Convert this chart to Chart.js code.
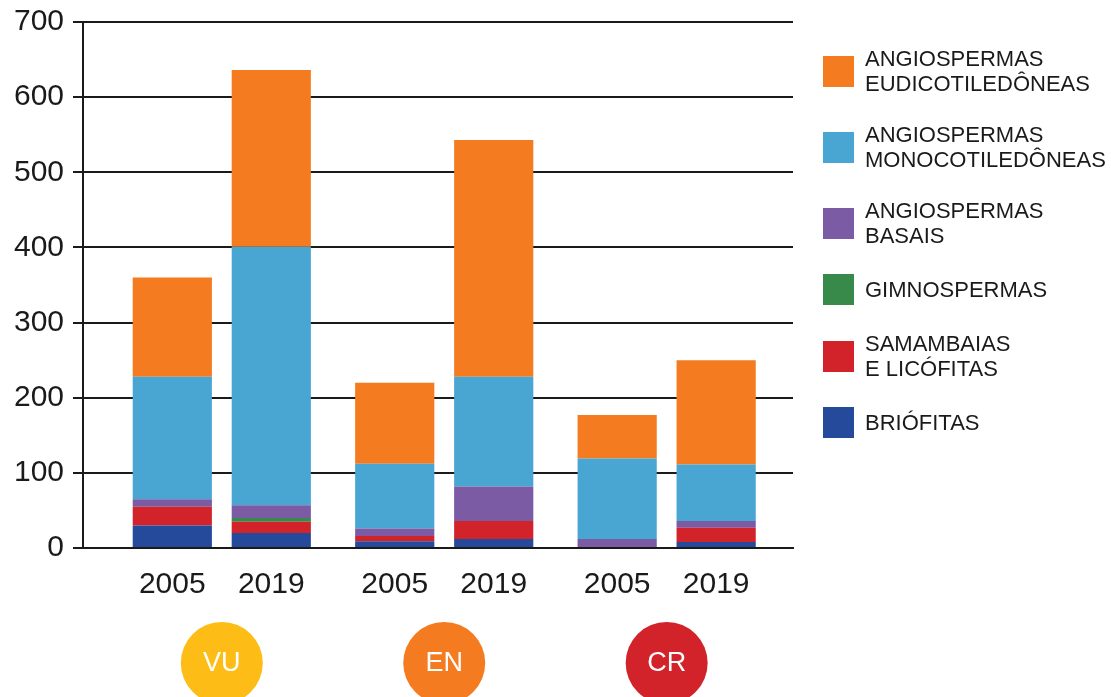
<!DOCTYPE html>
<html lang="pt-BR">
<head>
<meta charset="utf-8">
<title>Espécies ameaçadas 2005 x 2019</title>
<script src="https://cdn.jsdelivr.net/npm/chart.js@4/dist/chart.umd.min.js"></script>
<style>
    html, body { margin: 0; padding: 0; background: #fff; }
    body { width: 1111px; height: 697px; position: relative; overflow: hidden;
           font-family: "Liberation Sans", Arial, sans-serif; color: #1a1a1a; }
    #grafico { position: absolute; left: 0; top: 0; }
    #legenda { position: absolute; left: 823px; top: 46px; display: flex; flex-direction: column; gap: 26px; }
    .item { display: flex; align-items: center; min-height: 31px; }
    .caixa { width: 31px; height: 31px; flex: none; margin-right: 11px; }
    .texto { font-size: 22px; line-height: 25px; }
</style>
</head>
<body>
<canvas id="grafico" width="1111" height="697"></canvas>
<div id="legenda"></div>
<script>
// ==================== DADOS ====================
const categorias = ['VU', 'EN', 'CR'];
const coresCategoria = ['#fdbd16', '#f47b20', '#d2232a'];
const anos = ['2005', '2019'];

// valores por categoria, na ordem [VU, EN, CR]
const briofitas2005    = [30,  9,   0];
const briofitas2019    = [20,  12,  8];
const samambaias2005   = [25,  7,   0];
const samambaias2019   = [15,  24,  19];
const gimnospermas2005 = [0,   0,   0];
const gimnospermas2019 = [5,   0,   0];
const basais2005       = [10,  10,  12];
const basais2019       = [17,  46,  9];
const monocot2005      = [163, 86,  107];
const monocot2019      = [344, 146, 75];
const eudicot2005      = [132, 108, 58];
const eudicot2019      = [235, 315, 139];

const yTicks = [0, 100, 200, 300, 400, 500, 600, 700];

// de baixo para cima na pilha
const grupos = [
    { nome: ['BRIÓFITAS'],                        cor: '#264a9b', v: [briofitas2005, briofitas2019] },
    { nome: ['SAMAMBAIAS', 'E LICÓFITAS'],        cor: '#d2232a', v: [samambaias2005, samambaias2019] },
    { nome: ['GIMNOSPERMAS'],                     cor: '#388a4a', v: [gimnospermas2005, gimnospermas2019] },
    { nome: ['ANGIOSPERMAS', 'BASAIS'],           cor: '#7a5ba4', v: [basais2005, basais2019] },
    { nome: ['ANGIOSPERMAS', 'MONOCOTILEDÔNEAS'], cor: '#49a5d1', v: [monocot2005, monocot2019] },
    { nome: ['ANGIOSPERMAS', 'EUDICOTILEDÔNEAS'], cor: '#f47b20', v: [eudicot2005, eudicot2019] }
];

const fonte = '"Liberation Sans", Arial, sans-serif';
const corTexto = '#1a1a1a';

// ==================== DATASETS ====================
const datasets = [];
grupos.forEach(g => {
    anos.forEach((ano, k) => {
        datasets.push({
            label: g.nome.join(' ') + ' ' + ano,
            stack: ano,
            data: g.v[k].map((y, i) => ({ x: i + 1, y })),
            backgroundColor: g.cor,
            borderWidth: 0,
            categoryPercentage: 0.89,
            barPercentage: 0.8
        });
    });
});

// ==================== RÓTULOS (anos e círculos) ====================
const rotulosPlugin = {
    id: 'rotulos',
    afterDraw(chart) {
        const ctx = chart.ctx;
        const base = chart.chartArea.bottom;
        ctx.save();
        ctx.textAlign = 'center';
        ctx.textBaseline = 'middle';

        ctx.font = '30px ' + fonte;
        ctx.fillStyle = corTexto;
        anos.forEach((ano, k) => {
            chart.getDatasetMeta(k).data.forEach(bar => ctx.fillText(ano, bar.x, base + 37));
        });

        ctx.font = '27px ' + fonte;
        categorias.forEach((cat, i) => {
            const cx = chart.scales.x.getPixelForValue(i + 1);
            const cy = base + 115;
            ctx.beginPath();
            ctx.arc(cx, cy, 41, 0, Math.PI * 2);
            ctx.fillStyle = coresCategoria[i];
            ctx.fill();
            ctx.fillStyle = '#fff';
            ctx.fillText(cat, cx, cy + 1);
        });
        ctx.restore();
    }
};

// ==================== GRÁFICO ====================
new Chart(document.getElementById('grafico').getContext('2d'), {
    type: 'bar',
    data: { datasets },
    options: {
        responsive: false,
        animation: false,
        events: [],
        layout: { padding: { top: 22, right: 318, left: 0, bottom: 0 } },
        plugins: { legend: { display: false }, tooltip: { enabled: false } },
        scales: {
            x: {
                type: 'linear',
                stacked: true,
                offset: false,
                min: 0.376,
                max: 3.568,
                afterBuildTicks: s => { s.ticks = categorias.map((c, i) => ({ value: i + 1 })); },
                ticks: { display: false },
                grid: { display: false },
                border: { display: true, color: corTexto, width: 2 },
                afterFit: s => { s.height = 149; }
            },
            y: {
                stacked: true,
                min: 0,
                max: 700,
                afterBuildTicks: s => { s.ticks = yTicks.map(value => ({ value })); },
                ticks: { font: { family: fonte, size: 30 }, color: corTexto, padding: 9 },
                grid: { color: corTexto, lineWidth: 2, tickLength: 10 },
                border: { display: true, color: corTexto, width: 2 },
                afterFit: s => { s.width = 83; s.paddingTop = 0; s.paddingBottom = 0; }
            }
        }
    },
    plugins: [rotulosPlugin]
});

// ==================== LEGENDA ====================
const legenda = document.getElementById('legenda');
grupos.slice().reverse().forEach(g => {
    const item = document.createElement('div');
    item.className = 'item';
    item.innerHTML = `<div class="caixa" style="background:${g.cor}"></div><div class="texto">${g.nome.join('<br>')}</div>`;
    legenda.appendChild(item);
});
</script>
</body>
</html>
